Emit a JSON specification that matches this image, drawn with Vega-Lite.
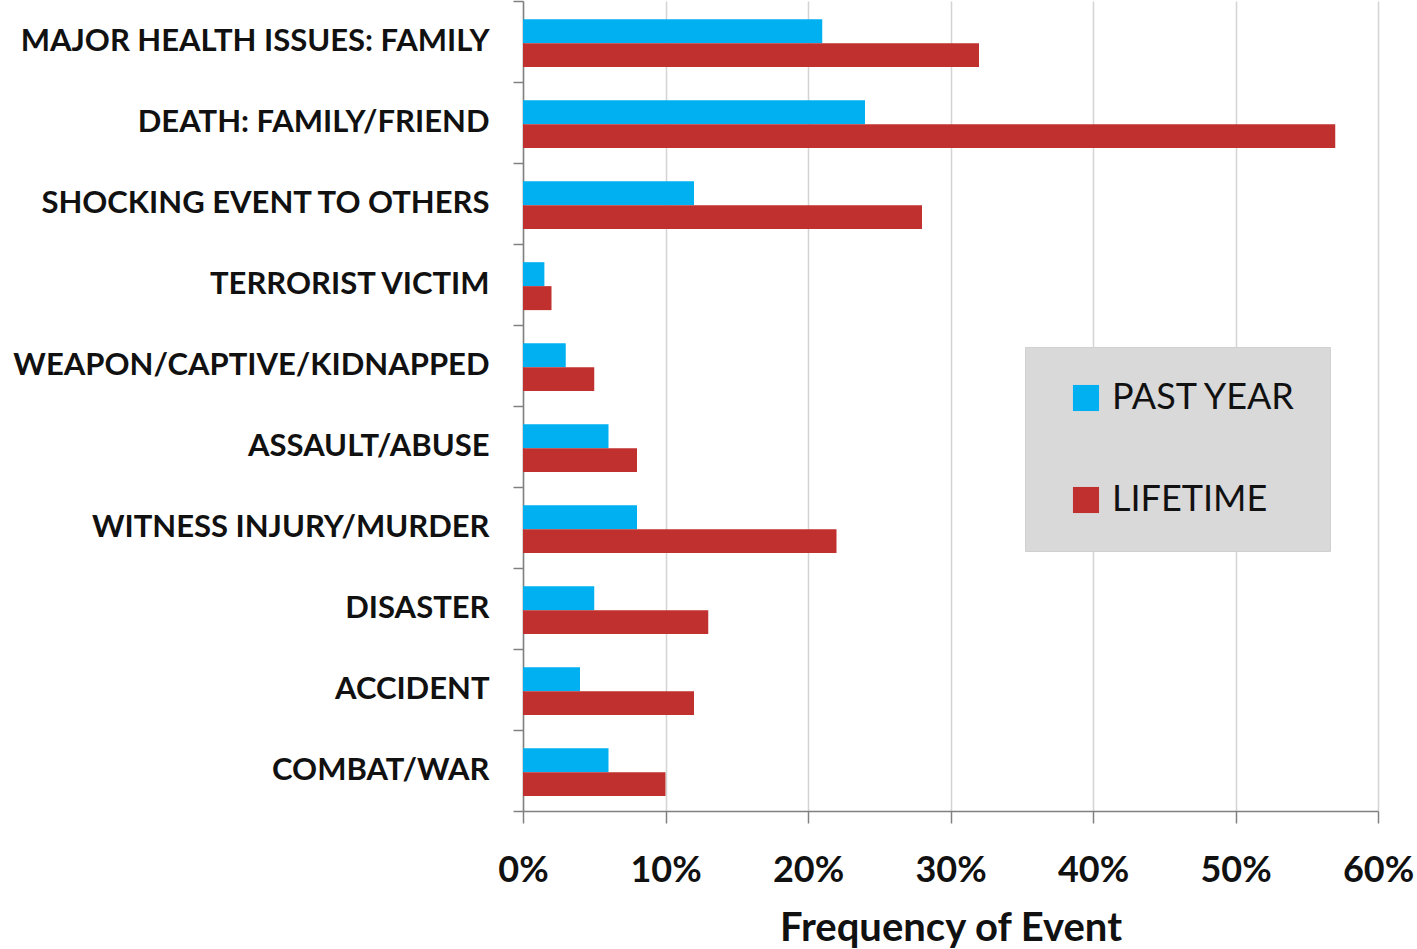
{
  "$schema": "https://vega.github.io/schema/vega-lite/v6.json",
  "autosize": "none",
  "padding": {"left": 523, "top": 1, "right": 39, "bottom": 138},
  "width": 855,
  "height": 810,
  "background": "white",
  "data": {
    "values": [
      {"event": "MAJOR HEALTH ISSUES: FAMILY", "period": "PAST YEAR", "freq": 0.21},
      {"event": "MAJOR HEALTH ISSUES: FAMILY", "period": "LIFETIME", "freq": 0.32},
      {"event": "DEATH: FAMILY/FRIEND", "period": "PAST YEAR", "freq": 0.24},
      {"event": "DEATH: FAMILY/FRIEND", "period": "LIFETIME", "freq": 0.57},
      {"event": "SHOCKING EVENT TO OTHERS", "period": "PAST YEAR", "freq": 0.12},
      {"event": "SHOCKING EVENT TO OTHERS", "period": "LIFETIME", "freq": 0.28},
      {"event": "TERRORIST VICTIM", "period": "PAST YEAR", "freq": 0.015},
      {"event": "TERRORIST VICTIM", "period": "LIFETIME", "freq": 0.02},
      {"event": "WEAPON/CAPTIVE/KIDNAPPED", "period": "PAST YEAR", "freq": 0.03},
      {"event": "WEAPON/CAPTIVE/KIDNAPPED", "period": "LIFETIME", "freq": 0.05},
      {"event": "ASSAULT/ABUSE", "period": "PAST YEAR", "freq": 0.06},
      {"event": "ASSAULT/ABUSE", "period": "LIFETIME", "freq": 0.08},
      {"event": "WITNESS INJURY/MURDER", "period": "PAST YEAR", "freq": 0.08},
      {"event": "WITNESS INJURY/MURDER", "period": "LIFETIME", "freq": 0.22},
      {"event": "DISASTER", "period": "PAST YEAR", "freq": 0.05},
      {"event": "DISASTER", "period": "LIFETIME", "freq": 0.13},
      {"event": "ACCIDENT", "period": "PAST YEAR", "freq": 0.04},
      {"event": "ACCIDENT", "period": "LIFETIME", "freq": 0.12},
      {"event": "COMBAT/WAR", "period": "PAST YEAR", "freq": 0.06},
      {"event": "COMBAT/WAR", "period": "LIFETIME", "freq": 0.10}
    ]
  },
  "config": {
    "view": {"stroke": null},
    "font": "Lato"
  },
  "mark": {"type": "bar"},
  "encoding": {
    "y": {
      "field": "event",
      "type": "nominal",
      "sort": null,
      "title": null,
      "scale": {"paddingInner": 0, "paddingOuter": 0},
      "axis": {
        "tickBand": "extent",
        "domainColor": "#808080",
        "domainWidth": 1.5,
        "tickColor": "#808080",
        "tickWidth": 1.5,
        "tickSize": 10,
        "labelFont": "Lato",
        "labelFontWeight": "bold",
        "labelFontSize": 31,
        "labelColor": "#111111",
        "labelPadding": 24,
        "labelLimit": 600
      }
    },
    "yOffset": {
      "field": "period",
      "type": "nominal",
      "sort": ["PAST YEAR", "LIFETIME"],
      "scale": {"paddingInner": 0, "paddingOuter": 0.69, "align": 0.55}
    },
    "x": {
      "field": "freq",
      "type": "quantitative",
      "title": "Frequency of Event",
      "scale": {"domain": [0, 0.6], "nice": false},
      "axis": {
        "values": [0, 0.1, 0.2, 0.3, 0.4, 0.5, 0.6],
        "format": ".0%",
        "grid": true,
        "gridColor": "#d4d4d4",
        "gridWidth": 1.5,
        "domainColor": "#808080",
        "domainWidth": 1.5,
        "tickColor": "#808080",
        "tickWidth": 1.5,
        "tickSize": 12,
        "labelFont": "Lato",
        "labelFontWeight": "bold",
        "labelFontSize": 36,
        "labelColor": "#111111",
        "labelPadding": 30,
        "labelFlush": false,
        "labelOverlap": false,
        "titleFont": "Lato",
        "titleFontWeight": "bold",
        "titleFontSize": 40,
        "titleColor": "#111111",
        "titlePadding": 20
      }
    },
    "color": {
      "field": "period",
      "type": "nominal",
      "sort": ["PAST YEAR", "LIFETIME"],
      "title": null,
      "scale": {"domain": ["PAST YEAR", "LIFETIME"], "range": ["#00b0f0", "#c0302f"]},
      "legend": {
        "orient": "none",
        "legendX": 502,
        "legendY": 346,
        "fillColor": "#d9d9d9",
        "strokeColor": "#d0d0d0",
        "padding": 33,
        "symbolType": "square",
        "symbolSize": 680,
        "symbolStrokeWidth": 0,
        "symbolOpacity": 1,
        "symbolOffset": 10,
        "labelFont": "Lato",
        "labelFontSize": 36,
        "labelColor": "#111111",
        "labelOffset": 8,
        "labelLimit": 400,
        "rowPadding": 66
      }
    }
  }
}
